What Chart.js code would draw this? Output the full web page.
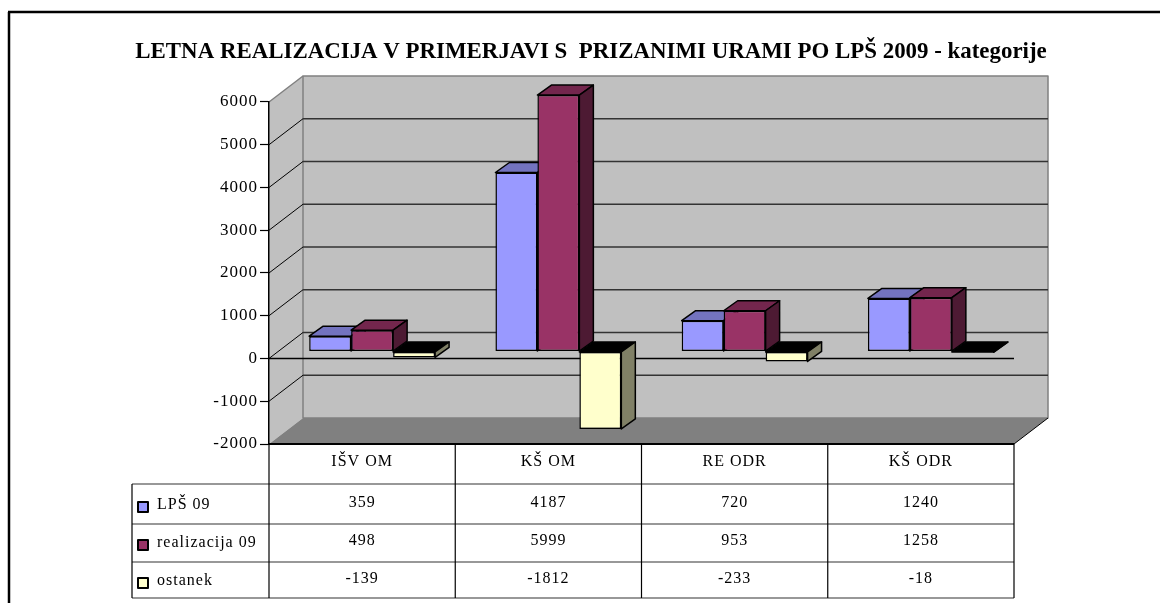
<!DOCTYPE html>
<html>
<head>
<meta charset="utf-8">
<title>Letna realizacija</title>
<script src="https://cdn.jsdelivr.net/npm/chart.js@4"></script>
<style>
    body { margin: 0; background: #fff; }
    canvas { display: block; }
</style>
</head>
<body>
<canvas id="myChart" width="1160" height="603"></canvas>
<script>
// Data
const categories = ['IŠV OM', 'KŠ OM', 'RE ODR', 'KŠ ODR'];
const lps09 = [359, 4187, 720, 1240];
const realizacija09 = [498, 5999, 953, 1258];
const ostanek = [-139, -1812, -233, -18];
const seriesNames = ['LPŠ 09', 'realizacija 09', 'ostanek'];

// Colors
const frontColors = ['#9999ff', '#993366', '#ffffcc'];
const topColors = ['#7373bf', '#73264d', '#000000'];
const sideColors = ['#4d4d80', '#4d1a33', '#808066'];

const FONT = '"Liberation Serif", serif';

// Depth of the side wall and of the bars
const WALL_DX = 34, WALL_DY = -26;
const BAR_DX = 10, BAR_DY = -7;
const DEPTH_DX = 14, DEPTH_DY = -10;

// Data table rows below the plot
const rowLines = [484, 524, 562, 598];
const rowText = [503, 541, 579];
const TABLE_LEFT = 132;

function line(ctx, x1, y1, x2, y2, color, width) {
    ctx.strokeStyle = color;
    ctx.lineWidth = width;
    ctx.beginPath();
    ctx.moveTo(x1, y1);
    ctx.lineTo(x2, y2);
    ctx.stroke();
}

function poly(ctx, pts, fill, stroke, width) {
    ctx.beginPath();
    pts.forEach((p, i) => i ? ctx.lineTo(p[0], p[1]) : ctx.moveTo(p[0], p[1]));
    ctx.closePath();
    ctx.fillStyle = fill;
    ctx.fill();
    if (stroke) {
        ctx.strokeStyle = stroke;
        ctx.lineWidth = width;
        ctx.lineJoin = 'round';
        ctx.stroke();
    }
}

const box3d = {
    id: 'box3d',
    afterLayout(chart) {
        // the title sits over the box, not over the canvas, and has no extra spacing
        const block = chart.titleBlock;
        block.left = 0;
        block.right = 1182;
        if (!block.spacingFixed) {
            const draw = block.draw.bind(block);
            block.draw = () => {
                block.ctx.save();
                block.ctx.letterSpacing = '0px';
                draw();
                block.ctx.restore();
            };
            block.spacingFixed = true;
        }
    },
    beforeDraw(chart) {
        const ctx = chart.ctx;
        const { left, right, top, bottom } = chart.chartArea;
        const y = chart.scales.y;

        ctx.letterSpacing = '1px';

        // frame
        line(ctx, 9, 603, 9, 12, '#000', 2.5);
        line(ctx, 8, 12, 1160, 12, '#000', 2.5);

        // walls and floor
        poly(ctx, [[left, top], [left + WALL_DX, top + WALL_DY], [left + WALL_DX, bottom + WALL_DY], [left, bottom]], '#c0c0c0');
        poly(ctx, [[left + WALL_DX, top + WALL_DY], [right + WALL_DX, top + WALL_DY], [right + WALL_DX, bottom + WALL_DY], [left + WALL_DX, bottom + WALL_DY]], '#c0c0c0', '#808080', 1.5);
        poly(ctx, [[left, bottom], [left + WALL_DX, bottom + WALL_DY], [right + WALL_DX, bottom + WALL_DY], [right, bottom]], '#808080');
        line(ctx, left, top, left + WALL_DX, top + WALL_DY, '#808080', 1.5);
        line(ctx, right, bottom, right + WALL_DX, bottom + WALL_DY, '#000', 1);

        // gridlines
        y.ticks.forEach(t => {
            const py = y.getPixelForValue(t.value);
            if (t.value !== 6000 && t.value !== -2000) {
                line(ctx, left, py, left + WALL_DX, py + WALL_DY, '#000', 1);
                line(ctx, left + WALL_DX, py + WALL_DY, right + WALL_DX, py + WALL_DY, '#333', 1.4);
            }
        });
        const zero = y.getPixelForValue(0);
        line(ctx, left, zero, right, zero, '#000', 1.4);
    },
    // draw the bars left to right so each one covers the side of the one before it
    beforeDatasetsDraw(chart) {
        const ctx = chart.ctx;
        ctx.save();
        ctx.translate(BAR_DX, BAR_DY);
        chart.data.datasets.forEach((ds, i) => {
            const meta = chart.getDatasetMeta(i);
            meta.data.forEach(bar => {
                const l = bar.x - bar.width / 2;
                const r = bar.x + bar.width / 2;
                const t = Math.min(bar.y, bar.base);
                const b = Math.max(bar.y, bar.base);
                poly(ctx, [[l, t], [l + DEPTH_DX, t + DEPTH_DY], [r + DEPTH_DX, t + DEPTH_DY], [r, t]], topColors[i], '#000', 1.5);
                poly(ctx, [[r, t], [r + DEPTH_DX, t + DEPTH_DY], [r + DEPTH_DX, b + DEPTH_DY], [r, b]], sideColors[i], '#000', 1.5);
            });
            meta.controller.draw();
        });
        ctx.restore();
        return false;
    },
    afterDraw(chart) {
        const ctx = chart.ctx;
        const { left, right, bottom } = chart.chartArea;
        const x = chart.scales.x;
        const step = (right - left) / categories.length;

        // data table lines
        line(ctx, left, bottom, right, bottom, '#000', 2);
        rowLines.forEach(ry => line(ctx, TABLE_LEFT, ry, right, ry, '#333', 1.2));
        for (let c = 0; c <= categories.length; c++) {
            line(ctx, left + c * step, bottom, left + c * step, rowLines[3], '#000', 1.2);
        }
        line(ctx, TABLE_LEFT, rowLines[0], TABLE_LEFT, rowLines[3], '#000', 1.2);

        // data table text and legend keys
        ctx.font = '16px ' + FONT;
        ctx.textBaseline = 'middle';
        chart.data.datasets.forEach((ds, i) => {
            ctx.strokeStyle = '#000';
            ctx.lineWidth = 2;
            ctx.fillStyle = frontColors[i];
            ctx.fillRect(138, rowText[i] - 1, 10, 10);
            ctx.strokeRect(138, rowText[i] - 1, 10, 10);
            ctx.fillStyle = '#000';
            ctx.textAlign = 'left';
            ctx.fillText(seriesNames[i], 157, rowText[i] + 2);
            ctx.textAlign = 'center';
            ds.data.forEach((v, c) => ctx.fillText(String(v), x.getPixelForTick(c), rowText[i]));
        });
    }
};

const chart = new Chart('myChart', {
    type: 'bar',
    data: {
        labels: categories,
        datasets: [
            { label: seriesNames[0], data: lps09, backgroundColor: frontColors[0] },
            { label: seriesNames[1], data: realizacija09, backgroundColor: frontColors[1] },
            { label: seriesNames[2], data: ostanek, backgroundColor: frontColors[2] }
        ]
    },
    options: {
        responsive: false,
        animation: false,
        layout: { padding: { left: 0, top: 0, right: 146, bottom: 0 } },
        datasets: {
            bar: {
                clip: false,
                barPercentage: 1,
                categoryPercentage: 0.676,
                borderColor: '#000',
                borderWidth: 1.5,
                borderSkipped: false
            }
        },
        plugins: {
            legend: { display: false },
            tooltip: { enabled: false },
            title: {
                display: true,
                text: 'LETNA REALIZACIJA V PRIMERJAVI S  PRIZANIMI URAMI PO LPŠ 2009 - kategorije',
                color: '#000',
                font: { family: FONT, size: 22.9, weight: 'bold', lineHeight: 1.2 },
                padding: { top: 38, bottom: 36.5 }
            }
        },
        scales: {
            x: {
                afterFit: s => { s.height = 159; },
                grid: { display: false },
                border: { display: false },
                ticks: { color: '#000', font: { family: FONT, size: 16 }, padding: 0, maxRotation: 0 }
            },
            y: {
                min: -2000,
                max: 6000,
                afterFit: s => { s.width = 269; },
                grid: { drawOnChartArea: false, tickLength: 9, tickColor: '#000', tickWidth: 1.2 },
                border: { color: '#000', width: 1.5 },
                ticks: {
                    stepSize: 1000,
                    color: '#000',
                    font: { family: FONT, size: 17 },
                    padding: 2,
                    callback: v => String(v)
                }
            }
        }
    },
    plugins: [box3d]
});
</script>
</body>
</html>
